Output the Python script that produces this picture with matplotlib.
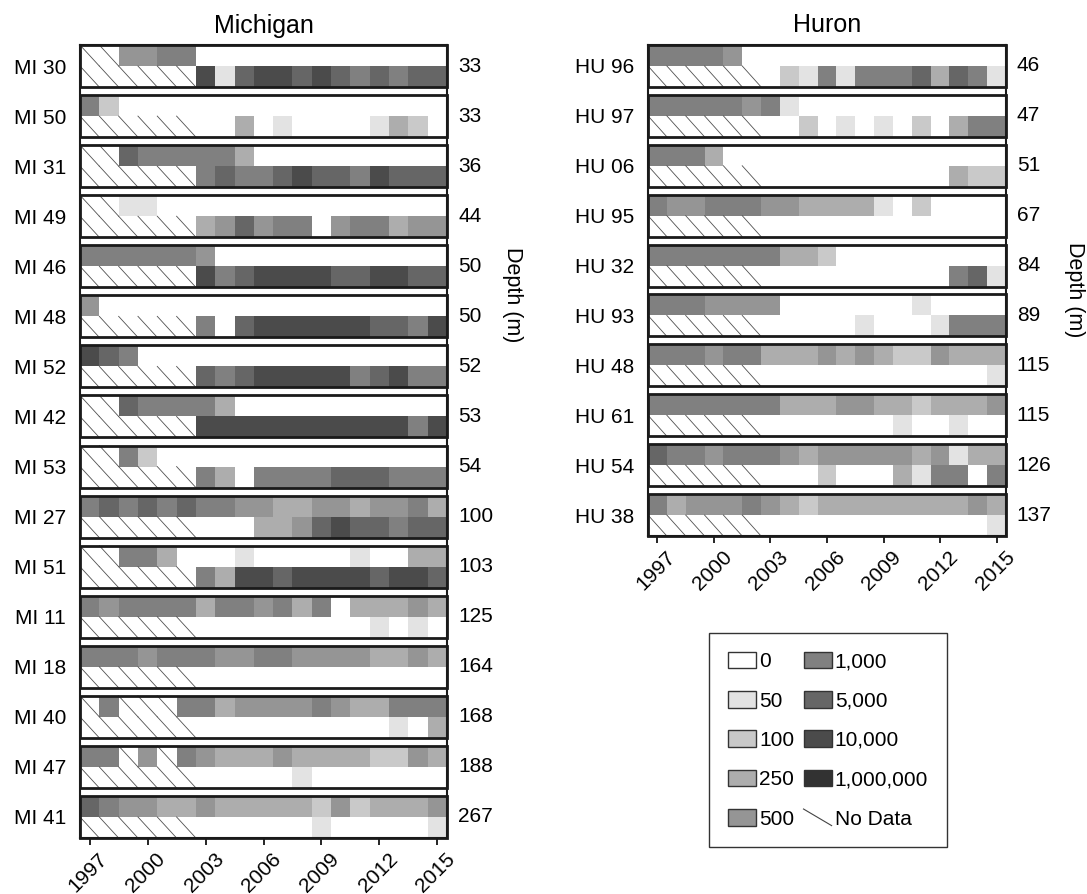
import numpy as np
import matplotlib
matplotlib.use('Agg')
import matplotlib.pyplot as plt
from matplotlib.colors import ListedColormap, BoundaryNorm
from matplotlib.patches import Patch, Rectangle
from matplotlib.lines import Line2D
from matplotlib.legend_handler import HandlerBase
from matplotlib.transforms import blended_transform_factory, ScaledTranslation

plt.rcParams['font.family'] = ['Liberation Sans', 'DejaVu Sans']

# 年份和密度等级
years = np.arange(1997, 2016)
level_labels = ['0', '50', '100', '250', '500', '1,000', '5,000', '10,000', '1,000,000']
level_colors = ['#ffffff', '#e3e3e3', '#c9c9c9', '#adadad', '#959595',
                '#808080', '#666666', '#4b4b4b', '#323232']
N = -1  # No Data

# Michigan 站点
mi_stations = ['MI 30', 'MI 50', 'MI 31', 'MI 49', 'MI 46', 'MI 48', 'MI 52', 'MI 42',
               'MI 53', 'MI 27', 'MI 51', 'MI 11', 'MI 18', 'MI 40', 'MI 47', 'MI 41']
mi_depths = [33, 33, 36, 44, 50, 50, 52, 53, 54, 100, 103, 125, 164, 168, 188, 267]
mi_top = [
    [N, N, 4, 4, 5, 5, 0, 0, 0, 0, 0, 0, 0, 0, 0, 0, 0, 0, 0],
    [5, 2, 0, 0, 0, 0, 0, 0, 0, 0, 0, 0, 0, 0, 0, 0, 0, 0, 0],
    [N, N, 6, 5, 5, 5, 5, 5, 3, 0, 0, 0, 0, 0, 0, 0, 0, 0, 0],
    [N, N, 1, 1, 0, 0, 0, 0, 0, 0, 0, 0, 0, 0, 0, 0, 0, 0, 0],
    [5, 5, 5, 5, 5, 5, 4, 0, 0, 0, 0, 0, 0, 0, 0, 0, 0, 0, 0],
    [4, 0, 0, 0, 0, 0, 0, 0, 0, 0, 0, 0, 0, 0, 0, 0, 0, 0, 0],
    [7, 6, 5, 0, 0, 0, 0, 0, 0, 0, 0, 0, 0, 0, 0, 0, 0, 0, 0],
    [N, N, 6, 5, 5, 5, 5, 3, 0, 0, 0, 0, 0, 0, 0, 0, 0, 0, 0],
    [N, N, 5, 2, 0, 0, 0, 0, 0, 0, 0, 0, 0, 0, 0, 0, 0, 0, 0],
    [5, 6, 5, 6, 5, 6, 5, 5, 4, 4, 3, 3, 4, 4, 3, 4, 4, 5, 3],
    [N, N, 5, 5, 3, 0, 0, 0, 1, 0, 0, 0, 0, 0, 1, 0, 0, 3, 3],
    [5, 4, 5, 5, 5, 5, 3, 5, 5, 4, 5, 3, 5, 0, 3, 3, 3, 4, 3],
    [5, 5, 5, 4, 5, 5, 5, 4, 4, 5, 5, 4, 4, 4, 4, 3, 3, 4, 3],
    [N, 5, N, N, N, 5, 5, 3, 4, 4, 4, 4, 5, 4, 3, 3, 5, 5, 5],
    [5, 5, N, 4, N, 5, 4, 3, 3, 3, 4, 3, 3, 3, 3, 2, 2, 4, 3],
    [6, 5, 4, 4, 3, 3, 4, 3, 3, 3, 3, 3, 2, 4, 2, 3, 3, 3, 4],
]
mi_bottom = [
    [N, N, N, N, N, N, 7, 1, 6, 7, 7, 6, 7, 6, 5, 6, 5, 6, 6],
    [N, N, N, N, N, N, 0, 0, 3, 0, 1, 0, 0, 0, 0, 1, 3, 2, 0],
    [N, N, N, N, N, N, 5, 6, 5, 5, 6, 7, 6, 6, 5, 7, 6, 6, 6],
    [N, N, N, N, N, N, 3, 4, 6, 4, 5, 5, 0, 4, 5, 5, 3, 4, 4],
    [N, N, N, N, N, N, 7, 5, 6, 7, 7, 7, 7, 6, 6, 7, 7, 6, 6],
    [N, N, N, N, N, N, 5, 0, 6, 7, 7, 7, 7, 7, 7, 6, 6, 5, 7],
    [N, N, N, N, N, N, 6, 5, 6, 7, 7, 7, 7, 7, 5, 6, 7, 5, 5],
    [N, N, N, N, N, N, 7, 7, 7, 7, 7, 7, 7, 7, 7, 7, 7, 5, 7],
    [N, N, N, N, N, N, 5, 3, 0, 5, 5, 5, 5, 6, 6, 6, 5, 5, 5],
    [N, N, N, N, N, N, 0, 0, 0, 3, 3, 4, 6, 7, 6, 6, 5, 6, 6],
    [N, N, N, N, N, N, 5, 3, 7, 7, 6, 7, 7, 7, 7, 6, 7, 7, 6],
    [N, N, N, N, N, N, 0, 0, 0, 0, 0, 0, 0, 0, 0, 1, 0, 1, 0],
    [N, N, N, N, N, N, 0, 0, 0, 0, 0, 0, 0, 0, 0, 0, 0, 0, 0],
    [N, N, N, N, N, N, 0, 0, 0, 0, 0, 0, 0, 0, 0, 0, 1, 0, 3],
    [N, N, N, N, N, N, 0, 0, 0, 0, 0, 1, 0, 0, 0, 0, 0, 0, 0],
    [N, N, N, N, N, N, 0, 0, 0, 0, 0, 0, 1, 0, 0, 0, 0, 0, 1],
]

# Huron 站点
hu_stations = ['HU 96', 'HU 97', 'HU 06', 'HU 95', 'HU 32', 'HU 93', 'HU 48', 'HU 61',
               'HU 54', 'HU 38']
hu_depths = [46, 47, 51, 67, 84, 89, 115, 115, 126, 137]
hu_top = [
    [5, 5, 5, 5, 4, 0, 0, 0, 0, 0, 0, 0, 0, 0, 0, 0, 0, 0, 0],
    [5, 5, 5, 5, 5, 4, 5, 1, 0, 0, 0, 0, 0, 0, 0, 0, 0, 0, 0],
    [5, 5, 5, 3, 0, 0, 0, 0, 0, 0, 0, 0, 0, 0, 0, 0, 0, 0, 0],
    [5, 4, 4, 5, 5, 5, 4, 4, 3, 3, 3, 3, 1, 0, 2, 0, 0, 0, 0],
    [5, 5, 5, 5, 5, 5, 5, 3, 3, 2, 0, 0, 0, 0, 0, 0, 0, 0, 0],
    [5, 5, 5, 4, 4, 4, 4, 0, 0, 0, 0, 0, 0, 0, 1, 0, 0, 0, 0],
    [5, 5, 5, 4, 5, 5, 3, 3, 3, 4, 3, 4, 3, 2, 2, 4, 3, 3, 3],
    [5, 5, 5, 5, 5, 5, 5, 3, 3, 3, 4, 4, 3, 3, 2, 3, 3, 3, 4],
    [6, 5, 5, 4, 5, 5, 5, 4, 3, 4, 4, 4, 4, 4, 3, 4, 1, 3, 3],
    [5, 3, 4, 4, 4, 5, 4, 3, 2, 3, 3, 3, 3, 3, 3, 3, 3, 4, 3],
]
hu_bottom = [
    [N, N, N, N, N, N, 0, 2, 1, 5, 1, 5, 5, 5, 6, 3, 6, 5, 1],
    [N, N, N, N, N, N, 0, 0, 2, 0, 1, 0, 1, 0, 2, 0, 3, 5, 5],
    [N, N, N, N, N, N, 0, 0, 0, 0, 0, 0, 0, 0, 0, 0, 3, 2, 2],
    [N, N, N, N, N, N, 0, 0, 0, 0, 0, 0, 0, 0, 0, 0, 0, 0, 0],
    [N, N, N, N, N, N, 0, 0, 0, 0, 0, 0, 0, 0, 0, 0, 5, 6, 1],
    [N, N, N, N, N, N, 0, 0, 0, 0, 0, 1, 0, 0, 0, 1, 5, 5, 5],
    [N, N, N, N, N, N, 0, 0, 0, 0, 0, 0, 0, 0, 0, 0, 0, 0, 1],
    [N, N, N, N, N, N, 0, 0, 0, 0, 0, 0, 0, 1, 0, 0, 1, 0, 0],
    [N, N, N, N, N, N, 0, 0, 0, 2, 0, 0, 0, 3, 1, 5, 5, 0, 5],
    [N, N, N, N, N, N, 0, 0, 0, 0, 0, 0, 0, 0, 0, 0, 0, 0, 1],
]

W, H = 1087, 894
fig = plt.figure(figsize=(W / 100, H / 100), dpi=100)

cmap = ListedColormap(level_colors)
cmap.set_bad('white')
norm = BoundaryNorm(np.arange(-0.5, len(level_colors)), cmap.N)
box_h = 0.84
row_h = box_h / 2
xe = np.append(years - 0.5, years[-1] + 0.5)


def draw_panel(ax, names, depths, top, bottom, title):
    for i in range(len(names)):
        grid = np.array([top[i], bottom[i]])
        ye = [i, i + row_h, i + box_h]
        ax.pcolormesh(xe, ye, np.ma.masked_less(grid, 0), cmap=cmap, norm=norm)
        # 无数据：每格一条斜线
        for r in range(2):
            for j in np.where(grid[r] < 0)[0]:
                ax.plot([xe[j], xe[j + 1]], [ye[r], ye[r + 1]], color='#505050', lw=0.6)
        ax.add_patch(Rectangle((xe[0], i), xe[-1] - xe[0], box_h, fill=False,
                               ec='#1a1a1a', lw=2, clip_on=False, zorder=3))
    trans = blended_transform_factory(ax.transAxes, ax.transData)
    for i, d in enumerate(depths):
        ax.text(1.03, i + row_h, str(d), transform=trans, ha='left', va='center', fontsize=15)
    ax.set_xlim(xe[0], xe[-1])
    ax.set_ylim(len(names) - 1 + box_h, 0)
    ax.set_yticks(np.arange(len(names)) + row_h, names)
    ax.tick_params(axis='y', length=0, pad=10, labelsize=15)
    ax.set_xticks(years[::3])
    ax.tick_params(axis='x', length=5, width=1.2, pad=3, labelsize=15)
    for lab in ax.get_xticklabels():
        lab.set_rotation(45)
        lab.set_ha('right')
        lab.set_rotation_mode('anchor')
        lab.set_transform(lab.get_transform() + ScaledTranslation(6 / 72, 0, fig.dpi_scale_trans))
    for s in ax.spines.values():
        s.set_linewidth(1.5)
        s.set_color('#1a1a1a')
    ax.set_title(title, fontsize=18, pad=9)


ax_mi = fig.add_axes([80 / W, 1 - 838 / H, 367 / W, 793 / H])
draw_panel(ax_mi, mi_stations, mi_depths, mi_top, mi_bottom, 'Michigan')
ax_hu = fig.add_axes([648 / W, 1 - 536 / H, 358 / W, 491 / H])
draw_panel(ax_hu, hu_stations, hu_depths, hu_top, hu_bottom, 'Huron')

fig.text(512 / W, 1 - 295 / H, 'Depth (m)', rotation=270, ha='center', va='center', fontsize=15.5)
fig.text(1075 / W, 1 - 290 / H, 'Depth (m)', rotation=270, ha='center', va='center', fontsize=15.5)


class DiagHandler(HandlerBase):
    def create_artists(self, legend, orig_handle, xdescent, ydescent, width, height, fontsize, trans):
        line = Line2D([-xdescent, -xdescent + width], [-ydescent + height, -ydescent],
                      color='#444444', lw=0.8)
        line.set_transform(trans)
        return [line]


handles = [Patch(facecolor=c, edgecolor='#333333', lw=1) for c in level_colors]
nodata = Line2D([], [], color='#444444')
handles.append(nodata)
labels = level_labels + ['No Data']
leg = fig.legend(handles, labels, ncol=2, loc='upper left',
                 bbox_to_anchor=(709 / W, 1 - 633 / H), borderaxespad=0,
                 fancybox=False, edgecolor='#333333', framealpha=1, fontsize=15,
                 handlelength=1.35, handleheight=0.85, handletextpad=0.15,
                 labelspacing=0.95, columnspacing=0.45, borderpad=0.9,
                 handler_map={nodata: DiagHandler()})
leg.get_frame().set_linewidth(1.0)

fig.savefig('out.png', dpi=100)
